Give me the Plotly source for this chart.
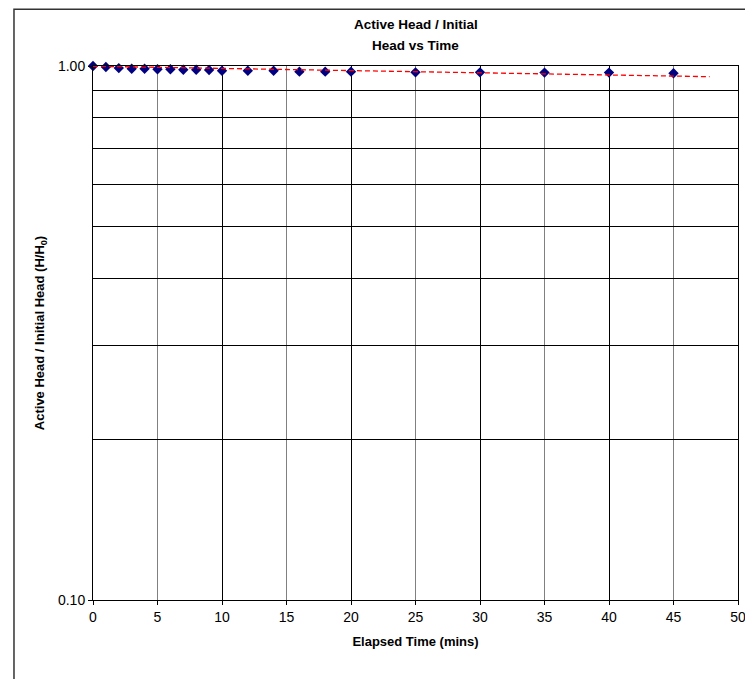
import plotly.graph_objects as go

# Data
elapsed_min = [0, 1, 2, 3, 4, 5, 6, 7, 8, 9, 10, 12, 14, 16, 18, 20, 25, 30, 35, 40, 45]
head_ratio = [1.000, 0.996, 0.991, 0.988, 0.988, 0.986, 0.986, 0.984, 0.984, 0.983,
              0.980, 0.980, 0.980, 0.976, 0.976, 0.976, 0.973, 0.973, 0.972, 0.972, 0.969]

# Exponential trend line (straight on log axis), endpoints
trend_x = [0, 47.8]
trend_y = [0.999, 0.955]

y_tick_vals = [0.1, 1.0]
y_tick_text = ["0.10", "1.00"]
y_grid_vals = [0.2, 0.3, 0.4, 0.5, 0.6, 0.7, 0.8, 0.9]
x_tick_vals = [0, 5, 10, 15, 20, 25, 30, 35, 40, 45, 50]
x_grid_dark = [10, 20, 30, 40]
x_grid_light = [5, 15, 25, 35, 45]

title_lines = ["Active Head / Initial", "Head vs Time"]

FONT = "Liberation Sans, Arial, sans-serif"

fig = go.Figure()
fig.add_trace(go.Scatter(
    x=trend_x, y=trend_y, mode="lines", xaxis="x2",
    line=dict(color="#ff0000", width=1.3, dash="5px,3px"),
    hoverinfo="skip", showlegend=False,
))
fig.add_trace(go.Scatter(
    x=elapsed_min, y=head_ratio, mode="markers",
    marker=dict(symbol="diamond", size=8, color="#000080",
                line=dict(width=0)),
    showlegend=False, cliponaxis=False,
))

# page body has an 8px margin; the figure is sized so the plot area lands
# at x 93-738, y 66-600 of the 753x679 window
fig.update_layout(
    width=745, height=671,
    margin=dict(l=85, r=15, t=58, b=79),
    paper_bgcolor="white", plot_bgcolor="white",
    font=dict(family=FONT, size=13, color="black"),
    xaxis=dict(
        range=[0, 50], tickmode="array", tickvals=x_tick_vals,
        showgrid=False,
        minor=dict(tickmode="array", tickvals=x_grid_light, showgrid=True,
                   gridcolor="#808080", gridwidth=1, ticks=""),
        ticks="outside", ticklen=4, tickcolor="black",
        showline=True, linecolor="black", linewidth=1, mirror=True,
        zeroline=False, automargin=False,
        tickfont=dict(family=FONT, size=14),
        title=dict(text="<b>Elapsed Time (mins)</b>", standoff=13,
                   font=dict(family=FONT, size=13)),
    ),
    xaxis2=dict(
        range=[0, 50], overlaying="x", side="bottom",
        tickmode="array", tickvals=x_grid_dark, showticklabels=False,
        ticks="", showgrid=True, gridcolor="#000000", gridwidth=1,
        showline=False, zeroline=False, automargin=False,
    ),
    yaxis=dict(
        type="log", range=[-1, 0],
        tickmode="array", tickvals=y_tick_vals, ticktext=y_tick_text,
        showgrid=False,
        ticks="outside", ticklen=4, tickcolor="black",
        showline=True, linecolor="black", linewidth=1, mirror=True,
        zeroline=False, automargin=False,
        tickfont=dict(family=FONT, size=14),
        minor=dict(tickmode="array", tickvals=y_grid_vals, showgrid=True,
                   gridcolor="#000000", gridwidth=0.8, ticks=""),
        title=dict(text="<b>Active Head / Initial Head (H/H<sub>0</sub>)</b>",
                   standoff=10, font=dict(family=FONT, size=13)),
    ),
    annotations=[
        dict(text="<b>%s</b>" % title_lines[0], xref="paper", yref="paper",
             x=0.5, y=1.0768, xanchor="center", yanchor="middle",
             showarrow=False, font=dict(family=FONT, size=13.5)),
        dict(text="<b>%s</b>" % title_lines[1], xref="paper", yref="paper",
             x=0.5, y=1.0375, xanchor="center", yanchor="middle",
             showarrow=False, font=dict(family=FONT, size=13.5)),
    ],
    shapes=[dict(
        type="rect", xref="paper", yref="paper",
        x0=-0.1225, x1=1.2, y0=-0.3, y1=1.1065,
        line=dict(color="#333333", width=1.5), fillcolor="rgba(0,0,0,0)",
        layer="below",
    )],
)

fig.write_html("out.html")
